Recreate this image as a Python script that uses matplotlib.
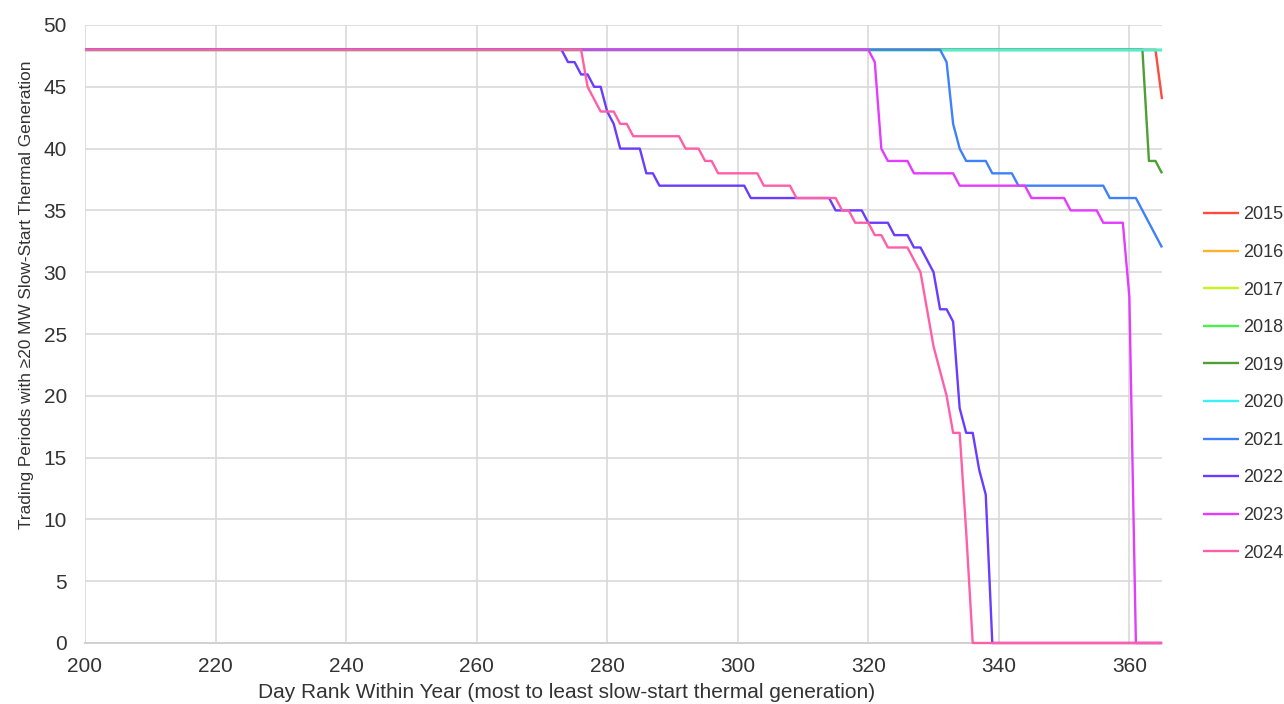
import matplotlib

matplotlib.use("Agg")
import matplotlib.pyplot as plt


# Day rank breakpoints and trading-period counts
YEARS = ["2015", "2016", "2017", "2018", "2019", "2020", "2021", "2022", "2023", "2024"]

DAYS_2015 = [200, 364, 365]
VALS_2015 = [48, 48, 44]

DAYS_2016 = [200, 365]
VALS_2016 = [48, 48]

DAYS_2017 = [200, 365]
VALS_2017 = [48, 48]

DAYS_2018 = [200, 365]
VALS_2018 = [48, 48]

DAYS_2019 = [200, 362, 363, 364, 365]
VALS_2019 = [48, 48, 39, 39, 38]

DAYS_2020 = [200, 365]
VALS_2020 = [48, 48]

DAYS_2021 = [200, 331, 332, 333, 334, 335, 338, 339, 342, 343, 356, 357, 361, 362, 363, 364, 365]
VALS_2021 = [48, 48, 47, 42, 40, 39, 39, 38, 38, 37, 37, 36, 36, 35, 34, 33, 32]

DAYS_2022 = [200, 273, 274, 275, 276, 277, 278, 279, 280, 281, 282, 285, 286, 287, 288, 301, 302,
             314, 315, 319, 320, 323, 324, 326, 327, 328, 329, 330, 331, 332, 333, 334, 335, 336,
             337, 338, 339, 365]
VALS_2022 = [48, 48, 47, 47, 46, 46, 45, 45, 43, 42, 40, 40, 38, 38, 37, 37, 36,
             36, 35, 35, 34, 34, 33, 33, 32, 32, 31, 30, 27, 27, 26, 19, 17, 17,
             14, 12, 0, 0]

DAYS_2023 = [200, 320, 321, 322, 323, 326, 327, 333, 334, 344, 345, 350, 351, 355, 356, 359, 360, 361, 365]
VALS_2023 = [48, 48, 47, 40, 39, 39, 38, 38, 37, 37, 36, 36, 35, 35, 34, 34, 28, 0, 0]

DAYS_2024 = [200, 276, 277, 278, 279, 281, 282, 283, 284, 291, 292, 294, 295, 296, 297, 303, 304,
             308, 309, 315, 316, 317, 318, 320, 321, 322, 323, 326, 327, 328, 329, 330, 331, 332,
             333, 334, 335, 336, 365]
VALS_2024 = [48, 48, 45, 44, 43, 43, 42, 42, 41, 41, 40, 40, 39, 39, 38, 38, 37,
             37, 36, 36, 35, 35, 34, 34, 33, 33, 32, 32, 31, 30, 27, 24, 22, 20,
             17, 17, 9, 0, 0]

SERIES_DAYS = [DAYS_2015, DAYS_2016, DAYS_2017, DAYS_2018, DAYS_2019,
               DAYS_2020, DAYS_2021, DAYS_2022, DAYS_2023, DAYS_2024]
SERIES_VALS = [VALS_2015, VALS_2016, VALS_2017, VALS_2018, VALS_2019,
               VALS_2020, VALS_2021, VALS_2022, VALS_2023, VALS_2024]

COLORS = ["#ff4a3d", "#ffb12e", "#c6f51c", "#4cf04a", "#4e9f35",
          "#3cf2f7", "#3f80fb", "#6a3cff", "#e43cff", "#ff5fa8"]

X_TICKS = list(range(200, 361, 20))
Y_TICKS = list(range(0, 51, 5))

W, H = 1284, 704


def main():
    fig = plt.figure(figsize=(W / 100, H / 100), dpi=100)
    ax = fig.add_axes([85 / W, 1 - 643 / H, (1162 - 85) / W, (643 - 25) / H])

    for days, vals, color, year in zip(SERIES_DAYS, SERIES_VALS, COLORS, YEARS):
        ax.plot(days, vals, color=color, linewidth=1.7, label=year,
                solid_joinstyle="round", solid_capstyle="butt",
                clip_on=False, zorder=3)

    ax.set_xlim(200, 365)
    ax.set_ylim(0, 50)
    ax.set_xticks(X_TICKS)
    ax.set_yticks(Y_TICKS)
    ax.grid(True, color="#d9d9d9", linewidth=1.2)
    ax.set_axisbelow(True)
    for side in ["top", "right", "left"]:
        ax.spines[side].set_visible(False)
    ax.spines["bottom"].set_color("#d0d0d0")
    ax.spines["bottom"].set_linewidth(1.4)
    ax.spines["bottom"].set_zorder(1)

    tick_font = ["Liberation Sans", "DejaVu Sans"]
    ax.tick_params(axis="both", length=0, labelsize=15, labelcolor="#333333")
    ax.tick_params(axis="y", pad=13)
    ax.tick_params(axis="x", pad=10)
    for lab in ax.get_xticklabels() + ax.get_yticklabels():
        lab.set_family(tick_font)

    label_font = ["Liberation Sans", "DejaVu Sans"]
    fig.text(27 / W, 1 - 295 / H,
             "Trading Periods with \u226520 MW Slow-Start Thermal Generation",
             rotation=90, ha="center", va="center", fontsize=12.4,
             color="#333333", family=label_font)
    fig.text(567 / W, 1 - 702 / H,
             "Day Rank Within Year (most to least slow-start thermal generation)",
             ha="center", va="bottom", fontsize=15, color="#333333",
             family=label_font)

    leg = ax.legend(loc="center left", bbox_to_anchor=(1203 / W, 1 - 384 / H),
                    bbox_transform=fig.transFigure, frameon=False,
                    fontsize=13, handlelength=2.0, handletextpad=0.2,
                    labelspacing=1.14, borderpad=0, borderaxespad=0)
    for txt in leg.get_texts():
        txt.set_color("#333333")
        txt.set_family(tick_font)

    fig.savefig("out.png", dpi=100, facecolor="white")
    plt.close(fig)


if __name__ == "__main__":
    main()
